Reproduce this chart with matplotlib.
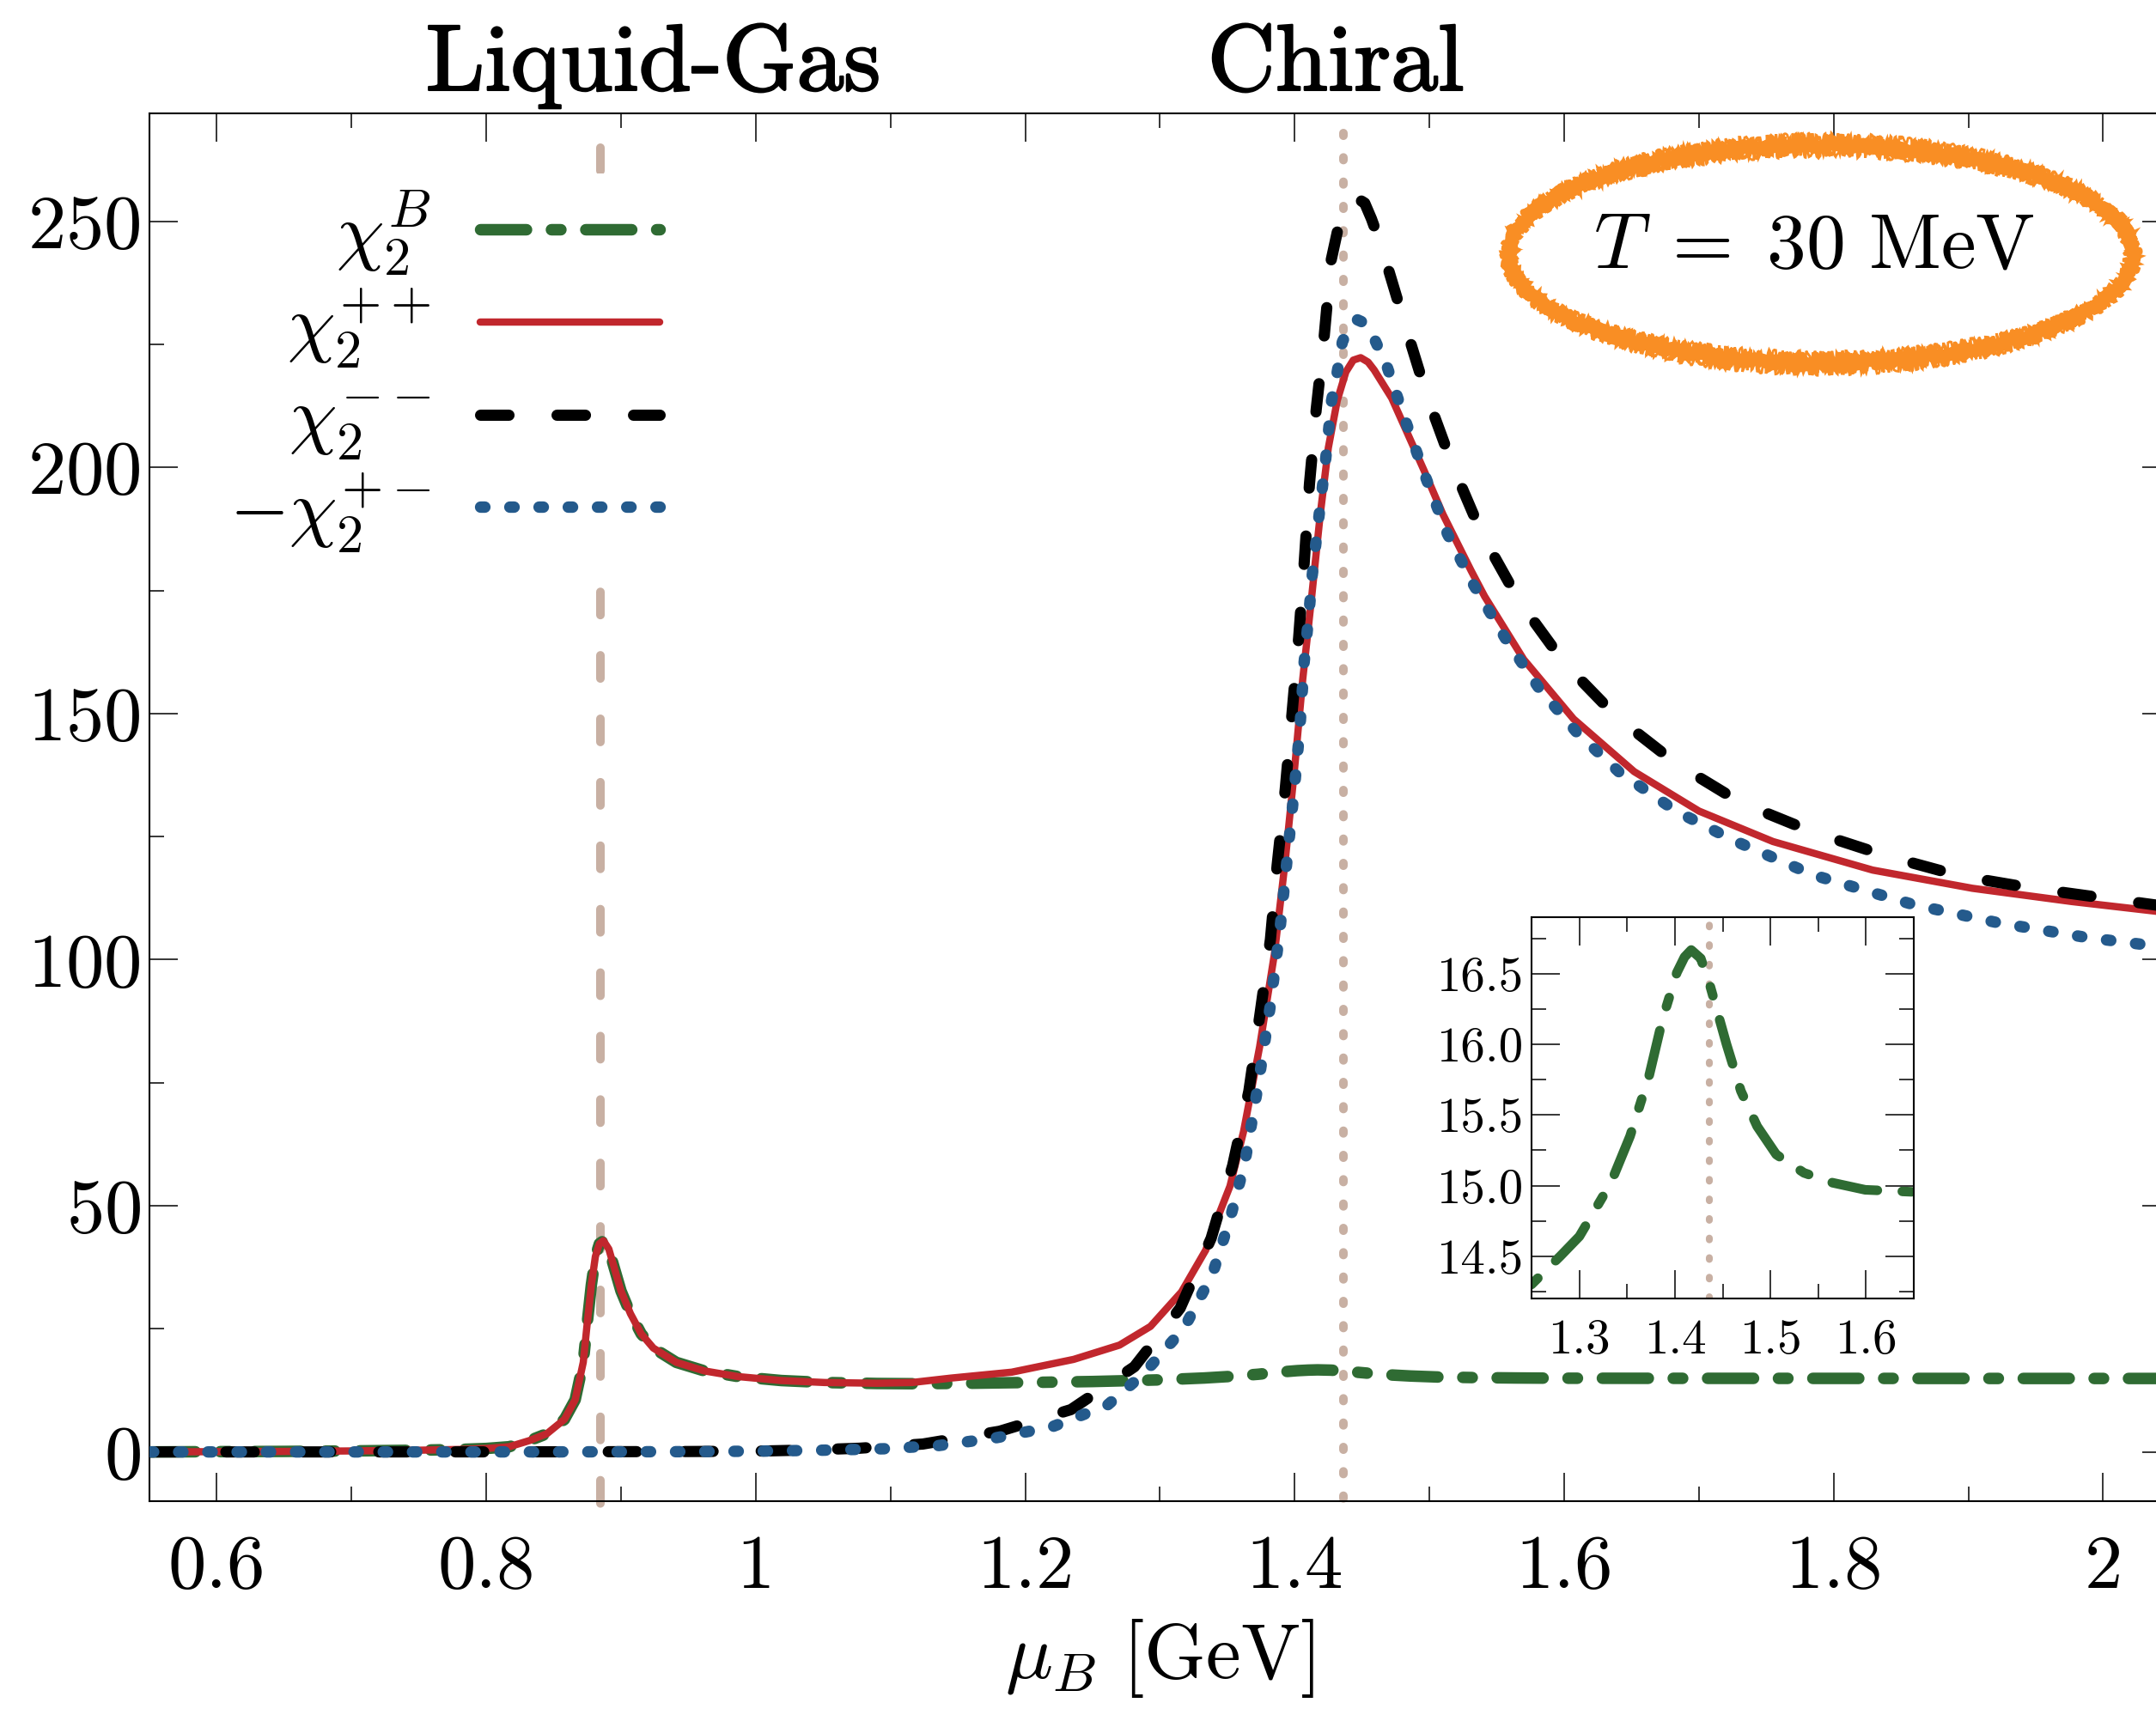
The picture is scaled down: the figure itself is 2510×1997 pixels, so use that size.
import matplotlib
matplotlib.use("Agg")
import matplotlib.pyplot as plt
import matplotlib.patheffects as pe
from matplotlib.patches import Ellipse
from matplotlib.offsetbox import DrawingArea
from matplotlib.ticker import MultipleLocator

# values
mu_b = [0.55, 0.60, 0.65, 0.70, 0.75, 0.78, 0.80,
        0.817, 0.832, 0.845, 0.858, 0.866, 0.872, 0.875, 0.878, 0.881, 0.884, 0.887,
        0.891, 0.895, 0.900, 0.907, 0.915, 0.924, 0.941, 0.962, 0.987,
        1.019, 1.051, 1.09, 1.12, 1.16, 1.20, 1.25, 1.28, 1.30,
        1.333, 1.353, 1.373, 1.387, 1.402, 1.410, 1.417, 1.427, 1.437,
        1.454, 1.469, 1.486, 1.506, 1.535, 1.565, 1.599, 1.65,
        1.75, 1.85, 1.95, 2.05]
chi2_b = [0.0, 0.05, 0.1, 0.2, 0.35, 0.5, 0.7,
          1.05, 2.3, 3.7, 6.6, 10.6, 18.2, 26.3, 33.9, 39.7, 42.3, 42.9,
          41.2, 37.4, 32.7, 28.1, 24.0, 21.1, 18.2, 16.45, 15.3,
          14.5, 14.1, 13.9, 13.85, 13.95, 14.1, 14.3, 14.5, 14.64,
          15.02, 15.35, 15.78, 16.18, 16.51, 16.62, 16.67, 16.61, 16.41,
          16.0, 15.67, 15.42, 15.22, 15.09, 15.02, 14.97, 14.955,
          14.94, 14.93, 14.92, 14.92]

mu_pp = [0.55, 0.60, 0.65, 0.70, 0.75, 0.78, 0.80,
         0.817, 0.832, 0.845, 0.858, 0.866, 0.872, 0.875, 0.878, 0.881, 0.884, 0.887,
         0.891, 0.895, 0.900, 0.907, 0.915, 0.924, 0.941, 0.962, 0.987,
         1.019, 1.051, 1.09, 1.116, 1.145, 1.19, 1.236, 1.27, 1.293, 1.316,
         1.334, 1.342, 1.352, 1.362, 1.374, 1.385, 1.393, 1.400, 1.406, 1.4125,
         1.419, 1.425, 1.4316, 1.438, 1.4435, 1.449, 1.4545, 1.459,
         1.472, 1.489, 1.496, 1.510, 1.531, 1.541, 1.570, 1.607, 1.652,
         1.700, 1.755, 1.829, 1.903, 1.977, 2.05]
chi2_pp = [0.0, 0.05, 0.1, 0.2, 0.35, 0.5, 0.7,
           1.05, 2.3, 3.7, 6.6, 10.6, 18.2, 26.3, 33.9, 39.7, 42.3, 42.9,
           41.2, 37.4, 32.7, 28.1, 24.0, 21.1, 18.2, 16.45, 15.3,
           14.5, 14.1, 13.95, 14.1, 15.0, 16.2, 18.8, 21.7, 25.5, 32.5,
           41.0, 47.0, 54.0, 65.0, 82.3, 101.2, 120.1, 139.0, 157.0, 173.4,
           190.5, 204.0, 213.6, 219.4, 221.8, 222.3, 221.4, 219.8,
           214.1, 203.7, 199.4, 190.5, 179.0, 173.8, 161.0, 148.9, 138.2,
           130.2, 124.0, 118.2, 114.5, 111.8, 109.5]

mu_mm = [0.55, 0.70, 0.85, 0.95, 1.00, 1.04, 1.077,
         1.124, 1.181, 1.234, 1.281, 1.315, 1.338, 1.354, 1.366, 1.374, 1.382,
         1.387, 1.393, 1.398, 1.403, 1.407, 1.411, 1.416, 1.422, 1.427, 1.434,
         1.441, 1.445, 1.452, 1.457, 1.465, 1.481, 1.498, 1.517, 1.539, 1.567,
         1.600, 1.639, 1.683, 1.731, 1.785, 1.839, 1.894, 1.948, 1.996, 2.05]
chi2_mm = [0.0, 0.0, 0.02, 0.08, 0.15, 0.4, 0.75,
           1.6, 4.2, 8.6, 17.3, 29.2, 43.4, 58.2, 73.3, 88.4, 104.1,
           119.2, 134.6, 149.9, 165.5, 180.3, 196.7, 211.8, 226.9, 242.0, 250.8,
           254.3, 254.9, 253.7, 250.5, 244.4, 229.8, 214.7, 200.5, 186.4, 172.7,
           160.3, 149.3, 139.9, 131.9, 125.9, 121.1, 117.0, 114.5, 112.7, 110.7]

mu_pm = [0.55, 0.70, 0.85, 0.95, 1.00, 1.05, 1.095,
         1.136, 1.177, 1.220, 1.261, 1.288, 1.318, 1.339, 1.352, 1.363, 1.373,
         1.382, 1.389, 1.3955, 1.400, 1.404, 1.407, 1.4105, 1.413, 1.418, 1.423,
         1.4274, 1.4316, 1.4354, 1.441, 1.4465, 1.453, 1.4597, 1.4688, 1.4826, 1.4975,
         1.5134, 1.5325, 1.557, 1.581, 1.609, 1.6405, 1.683, 1.726, 1.785, 1.859,
         1.922, 1.988, 2.05]
mchi2_pm = [0.0, 0.0, 0.01, 0.05, 0.15, 0.35, 0.64,
            1.3, 2.8, 5.1, 9.5, 15.9, 25.2, 36.1, 47.3, 58.7, 74.7,
            90.8, 105.9, 123.4, 135.3, 147.5, 160.3, 170.0, 178.0, 190.0, 201.6,
            213.6, 219.4, 225.5, 228.7, 230.0, 229.2, 225.8, 220.3, 209.2, 197.8,
            186.5, 176.3, 165.0, 155.3, 146.3, 138.2, 130.2, 124.2, 117.2, 111.2,
            107.5, 104.5, 102.4]

mu_liquid_gas = 0.885
mu_chiral = 1.436
liquid_gas_span = [265, -12]
chiral_span = [268, -12]

labels = [r"$\chi_2^B$", r"$\chi_2^{++}$", r"$\chi_2^{--}$", r"$-\chi_2^{+-}$"]
transition_names = ["Liquid-Gas", "Chiral"]
transition_label_mu = [0.924, 1.4305]
temperature_text = r"$T\;=\;30\ \mathrm{MeV}$"

main_xticks = [0.6, 0.8, 1.0, 1.2, 1.4, 1.6, 1.8, 2.0]
main_xticklabels = ["0.6", "0.8", "1", "1.2", "1.4", "1.6", "1.8", "2"]
main_yticks = [0, 50, 100, 150, 200, 250]
inset_xticks = [1.3, 1.4, 1.5, 1.6]
inset_xticklabels = ["1.3", "1.4", "1.5", "1.6"]
inset_yticks = [14.5, 15.0, 15.5, 16.0, 16.5]
inset_yticklabels = ["14.5", "15.0", "15.5", "16.0", "16.5"]

GREEN = "#2f6b33"
RED = "#c1272d"
BLUE = "#245a8c"
TAN = "#c8b0a3"
ORANGE = "#f98e24"

plt.rcParams.update({
    "font.family": "serif",
    "font.serif": ["cmr10"],
    "mathtext.fontset": "cm",
    "axes.formatter.use_mathtext": True,
    "lines.scale_dashes": False,
    "lines.dash_capstyle": "round",
    "lines.solid_capstyle": "round",
    "lines.dash_joinstyle": "round",
    "lines.solid_joinstyle": "round",
    "axes.linewidth": 1.5,
    "xtick.direction": "in",
    "ytick.direction": "in",
    "xtick.top": True,
    "ytick.right": True,
    "xtick.major.width": 1.1,
    "ytick.major.width": 1.1,
    "xtick.minor.width": 1.1,
    "ytick.minor.width": 1.1,
    "xtick.major.size": 23.5,
    "ytick.major.size": 23.5,
    "xtick.minor.size": 12,
    "ytick.minor.size": 12,
})

fig = plt.figure(figsize=(25.1, 19.97), dpi=100)
ax = fig.add_axes([0.0693, 0.1247, 0.9374, 0.8094])

ax.plot([mu_liquid_gas] * 2, liquid_gas_span, color=TAN, lw=7.2,
        dashes=(19.4, 33.8), clip_on=False, zorder=1)
ax.plot([mu_chiral] * 2, chiral_span, color=TAN, lw=7.2,
        dashes=(2.2, 18.2), clip_on=False, zorder=1)

styles = [
    dict(color=GREEN, lw=9.7, dashes=(38.5, 20.9, 7.9, 20.9), zorder=2),
    dict(color=RED, lw=6.1, zorder=3),
    dict(color="black", lw=9.4, dashes=(23.8, 40.3), zorder=4),
    dict(color=BLUE, lw=9.6, dashes=(3.6, 20.9), zorder=5),
]
series = [(mu_b, chi2_b), (mu_pp, chi2_pp), (mu_mm, chi2_mm), (mu_pm, mchi2_pm)]
handles = []
for (xs, ys), st, lab in zip(series, styles, labels):
    h, = ax.plot(xs, ys, label=lab, **st)
    handles.append(h)

ax.set_xlim(0.55, 2.05)
ax.set_ylim(-10, 272)
ax.set_xticks(main_xticks, main_xticklabels)
ax.set_yticks(main_yticks)
ax.xaxis.set_minor_locator(MultipleLocator(0.1))
ax.yaxis.set_minor_locator(MultipleLocator(25))
ax.tick_params(axis="x", which="both", labelsize=64, pad=28)
ax.tick_params(axis="y", which="both", labelsize=64, pad=7)
ax.set_xlabel(r"$\mu_B\ [\mathrm{GeV}]$", fontsize=66, labelpad=12)

for name, xpos in zip(transition_names, transition_label_mu):
    ax.text(xpos, 1.0165, name, transform=ax.get_xaxis_transform(),
            ha="center", va="baseline", fontsize=79,
            path_effects=[pe.withStroke(linewidth=1.6, foreground="black")])

leg = ax.legend(handles=handles, loc="upper left", bbox_to_anchor=(0.0318, 0.9566),
                markerfirst=False, frameon=True, facecolor="white", edgecolor="none",
                framealpha=1, fancybox=False, fontsize=64, handlelength=2.35,
                handletextpad=0.65, labelspacing=0.0, borderpad=0.2, borderaxespad=0)
leg.set_zorder(10)
# equal row pitch: an invisible strut in every legend row
for row in leg._legend_handle_box.get_children()[0].get_children():
    row.get_children().append(DrawingArea(0, 77.5, 0, 22.5))

# hand-drawn looking ring round the temperature label
ring = [(11.0, 0.0, 0.0, (2, 40, 3)), (3.0, 0.003, 0.006, (6, 7, 9)),
        (3.0, -0.003, -0.006, (6, 9, 7)), (2.0, 0.0, 0.009, (7, 5, 11)),
        (2.0, 0.001, -0.009, (7, 6, 12))]
for lw, dw, dh, sk in ring:
    e = Ellipse((0.8271, 0.8983), 0.3086 + dw, 0.1571 + dh, transform=ax.transAxes,
                fill=False, ec=ORANGE, lw=lw, zorder=6)
    e.set_sketch_params(*sk)
    ax.add_patch(e)
ax.text(0.8237, 0.9027, temperature_text, transform=ax.transAxes,
        ha="center", va="center", fontsize=66, zorder=7)

ins = fig.add_axes([0.7104, 0.2429, 0.1773, 0.2221])
ins.axvline(mu_chiral, color=TAN, lw=5.8, dashes=(1.4, 15), zorder=1)
ins.plot(mu_b, chi2_b, color=GREEN, lw=8, dashes=(38.5, 20.9, 7.9, 20.9), zorder=2)
ins.set_xlim(1.25, 1.65)
ins.set_ylim(14.2, 16.9)
ins.set_xticks(inset_xticks, inset_xticklabels)
ins.set_yticks(inset_yticks, inset_yticklabels)
ins.xaxis.set_minor_locator(MultipleLocator(0.05))
ins.yaxis.set_minor_locator(MultipleLocator(0.25))
ins.tick_params(axis="x", which="both", labelsize=41, pad=17)
ins.tick_params(axis="y", which="both", labelsize=41, pad=7)

fig.savefig("out.png", dpi=100)
